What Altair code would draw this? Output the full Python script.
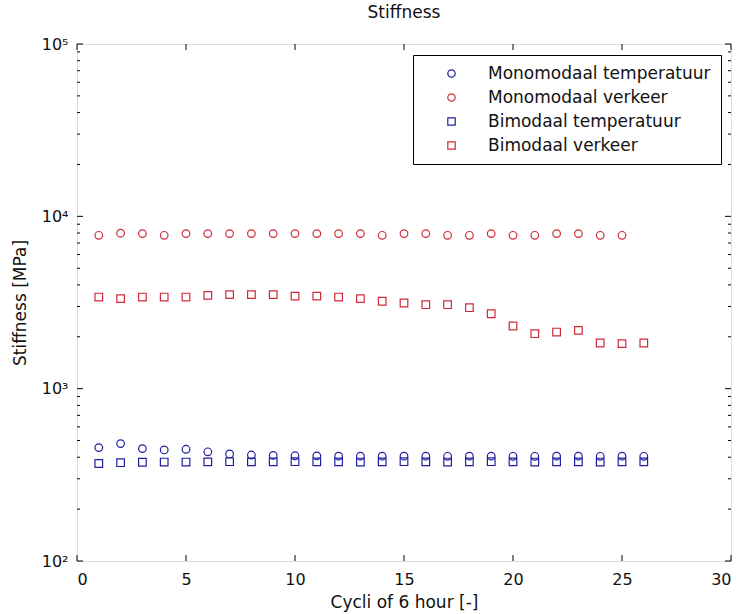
import altair as alt
import pandas as pd

# Series read per cycle (x = cycle number, y = stiffness in MPa)
cycles = list(range(1, 27))
names = ["Monomodaal temperatuur", "Monomodaal verkeer", "Bimodaal temperatuur", "Bimodaal verkeer"]
colors = ["#1f1fa0", "#d02a3a", "#1f1fa0", "#d02a3a"]
shapes = ["circle", "circle", "square", "square"]

mono_temp = [455, 480, 449, 441, 445, 430, 418, 412, 410, 408, 407, 406, 406, 406, 406,
             406, 405, 406, 406, 405, 405, 406, 406, 405, 406, 405]
mono_verk = [7760, 7980, 7940, 7760, 7940, 7940, 7940, 7940, 7940, 7940, 7940, 7940, 7940,
             7760, 7940, 7940, 7760, 7760, 7940, 7760, 7760, 7940, 7940, 7760, 7760]
bi_temp = [368, 372, 374, 375, 375, 376, 377, 376, 376, 377, 376, 376, 375, 376, 377,
           376, 375, 376, 377, 376, 375, 376, 376, 375, 376, 376]
bi_verk = [3400, 3330, 3400, 3400, 3400, 3480, 3515, 3515, 3515, 3445, 3445, 3400, 3330,
           3215, 3140, 3070, 3070, 2950, 2720, 2310, 2085, 2130, 2180, 1840, 1825, 1840]

x_ticks = [0, 5, 10, 15, 20, 25, 30]
y_major = [100, 1000, 10000, 100000]
y_minor = [m * 10 ** k for k in (2, 3, 4) for m in range(2, 10)]

rows = []
for name, vals in zip(names, [mono_temp, mono_verk, bi_temp, bi_verk]):
    for c, v in zip(cycles, vals):
        rows.append({"series": name, "cycle": c, "stiffness": v})
df = pd.DataFrame(rows)

W, H = 654, 517
FONT = "DejaVu Sans"
INK = "#111111"

xscale = alt.Scale(domain=[0, 30], nice=False)
yscale = alt.Scale(type="log", domain=[100, 100000], nice=False)

sup = "{'100': '\u00b2', '1000': '\u00b3', '10000': '\u2074', '100000': '\u2075'}"

axis_style = dict(ticks=False, domain=False, grid=False,
                  labelFont=FONT, titleFont=FONT, labelFontSize=16, titleFontSize=17,
                  labelColor=INK, titleColor=INK, titleFontWeight="normal")

x_axis = alt.Axis(values=x_ticks, title="Cycli of 6 hour [-]", labelPadding=10,
                  titlePadding=7, **axis_style)
y_axis = alt.Axis(values=y_major, title="Stiffness [MPa]", labelPadding=9, titlePadding=12,
                  labelExpr="'10' + " + sup + "[datum.value + '']", **axis_style)

legend = alt.Legend(
    orient="none", legendX=336, legendY=11, title=None,
    strokeColor="black", fillColor="white", padding=10,
    symbolOffset=20, labelOffset=28, labelFont=FONT, labelFontSize=17,
    labelColor=INK, rowPadding=6, symbolStrokeWidth=1.2, symbolSize=55,
    labelLimit=400, cornerRadius=0,
)

points = alt.Chart(df).mark_point(filled=False, strokeWidth=1.2, size=58, opacity=1).encode(
    x=alt.X("cycle:Q", scale=xscale, axis=x_axis),
    y=alt.Y("stiffness:Q", scale=yscale, axis=y_axis),
    color=alt.Color("series:N", scale=alt.Scale(domain=names, range=colors), legend=legend),
    shape=alt.Shape("series:N", scale=alt.Scale(domain=names, range=shapes), legend=legend),
)

xt = pd.DataFrame({"cycle": x_ticks})
ymaj = pd.DataFrame({"stiffness": y_major})
ymin = pd.DataFrame({"stiffness": y_minor})

def xtick(y0, y1):
    return alt.Chart(xt).mark_rule(color="black", strokeWidth=1).encode(
        x=alt.X("cycle:Q", scale=xscale, axis=x_axis), y=alt.value(y0), y2=alt.value(y1))

def ytick(data, x0, x1):
    return alt.Chart(data).mark_rule(color="black", strokeWidth=1).encode(
        y=alt.Y("stiffness:Q", scale=yscale, axis=y_axis), x=alt.value(x0), x2=alt.value(x1))

ticks = [
    xtick(H, H - 6), xtick(0, 6),
    ytick(ymaj, 0, 6), ytick(ymaj, W, W - 6),
    ytick(ymin, 0, 3), ytick(ymin, W, W - 3),
]

chart = alt.layer(points, *ticks).properties(
    width=W, height=H,
    title=alt.TitleParams("Stiffness", fontSize=17, fontWeight="normal", font=FONT,
                          color=INK, offset=14),
    autosize=alt.AutoSizeParams(type="none"),
    padding={"left": 77, "top": 44, "right": 13, "bottom": 53},
).configure_view(
    stroke="black", strokeWidth=1
).configure(background="white")

chart.save("out.html", embed_options={"renderer": "svg", "actions": False})
